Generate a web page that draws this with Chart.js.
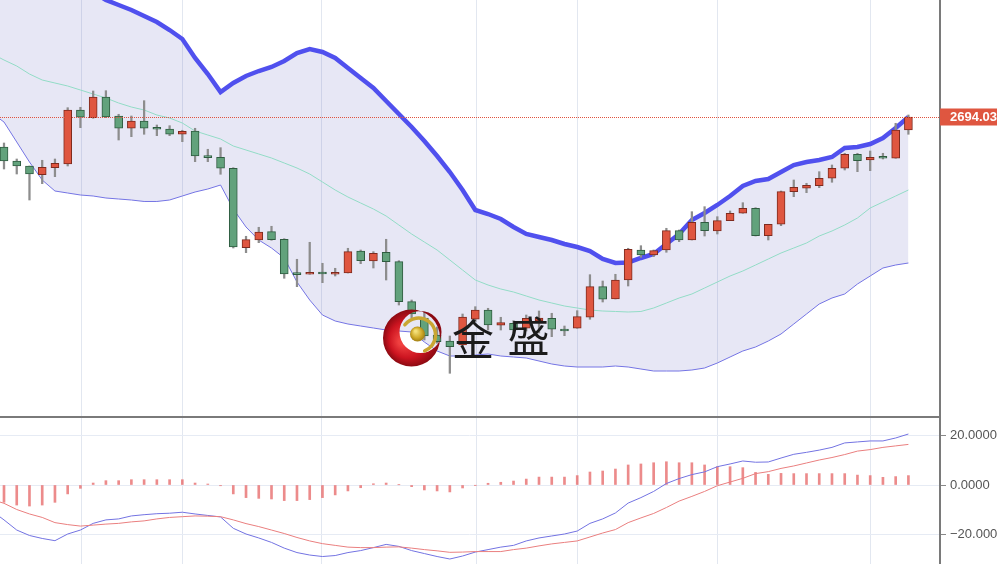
<!DOCTYPE html>
<html><head><meta charset="utf-8">
<script src="https://cdn.jsdelivr.net/npm/chart.js@4.4.1/dist/chart.umd.min.js"></script>
<style>
html,body{margin:0;padding:0;background:#fff;overflow:hidden;}
#wrap{position:relative;width:997px;height:564px;}
#main{position:absolute;left:0;top:0;}
#macd{position:absolute;left:0;top:416px;}
</style></head><body>
<div id="wrap">
<canvas id="main" width="997" height="417"></canvas>
<canvas id="macd" width="997" height="148"></canvas>
</div>
<script>
// ---- candles (price) ----
const candleOpen = [2686.53,2683.03,2681.78,2679.61,2681.36,2682.28,2695.78,2693.86,2699.03,2694.28,
2691.21,2693.03,2691.36,2691.03,2689.71,2690.53,2684.36,2683.96,2681.21,2661.36,
2663.28,2665.36,2663.46,2654.96,2654.71,2655.21,2654.71,2655.03,2660.53,2658.03,
2660.21,2657.86,2647.86,2643.78,2639.53,2638.03,2637.03,2643.46,2645.78,2641.96,
2642.46,2641.21,2643.03,2643.71,2640.96,2641.21,2643.96,2651.61,2648.53,2653.28,
2660.78,2659.53,2660.78,2665.61,2663.28,2667.71,2665.53,2668.11,2669.96,2671.21,
2664.36,2667.21,2675.36,2676.21,2676.86,2678.71,2681.21,2684.71,2683.28,2684.11,
2683.71,2690.78];
const candleHigh = [2687.53,2683.53,2681.78,2683.21,2683.53,2696.36,2696.46,2700.53,2700.61,2694.71,
2694.28,2698.11,2692.03,2691.86,2690.71,2691.21,2685.96,2686.36,2681.36,2664.21,
2666.46,2666.71,2663.61,2658.46,2662.71,2657.46,2656.21,2661.21,2660.78,2660.36,
2663.46,2658.11,2648.28,2645.28,2641.53,2639.28,2644.78,2646.61,2646.21,2643.96,
2643.11,2644.53,2645.53,2644.96,2641.78,2645.61,2654.61,2653.03,2654.71,2661.21,
2661.86,2660.78,2666.21,2665.78,2670.36,2671.61,2669.11,2670.53,2672.61,2671.36,
2667.21,2675.53,2678.28,2677.46,2680.36,2682.03,2684.96,2684.96,2685.53,2684.96,
2692.46,2694.53];
const candleLow = [2681.03,2679.78,2673.28,2677.36,2679.11,2681.78,2691.36,2693.71,2693.86,2688.28,
2689.11,2689.71,2689.36,2689.36,2687.86,2682.86,2682.86,2679.71,2661.28,2660.11,
2662.61,2663.21,2653.71,2651.61,2654.71,2652.61,2654.28,2655.03,2657.36,2656.28,
2653.28,2647.03,2643.78,2638.28,2637.46,2629.96,2636.53,2642.86,2640.78,2640.78,
2640.03,2640.53,2640.03,2639.11,2639.36,2641.21,2643.46,2647.78,2648.53,2651.78,
2658.96,2659.11,2660.21,2662.86,2663.28,2664.28,2664.78,2668.11,2669.96,2664.28,
2663.28,2666.86,2674.11,2675.11,2676.36,2677.71,2680.78,2680.36,2680.61,2683.53,
2683.71,2689.71];
const candleClose = [2683.03,2681.78,2679.78,2681.46,2682.46,2695.78,2693.96,2699.03,2694.03,2691.21,
2693.03,2691.21,2690.96,2689.71,2690.46,2684.28,2683.86,2681.21,2661.53,2663.36,
2665.28,2663.36,2654.78,2654.61,2655.21,2654.78,2655.21,2660.36,2658.11,2659.96,
2657.86,2647.86,2644.78,2639.28,2637.86,2636.61,2644.03,2645.78,2642.03,2642.61,
2640.78,2643.71,2643.78,2640.96,2640.53,2644.11,2651.61,2648.46,2653.28,2660.96,
2659.53,2660.61,2665.61,2663.28,2667.71,2665.61,2668.11,2669.96,2671.21,2664.36,
2667.21,2675.36,2676.46,2676.96,2678.71,2681.21,2684.71,2683.11,2683.96,2683.71,
2690.78,2694.03];

// ---- Bollinger bands ----
const bollUpper = [2725.78,2726.28,2726.78,2728.28,2729.28,2728.28,2727.03,2725.28,2723.28,2722.03,
2720.78,2719.28,2717.78,2715.78,2713.53,2708.78,2704.78,2700.28,2702.53,2704.28,
2705.53,2706.53,2708.03,2710.03,2711.03,2710.28,2708.78,2706.28,2703.78,2701.28,
2698.03,2694.78,2691.53,2688.03,2684.28,2680.28,2675.78,2670.78,2669.78,2668.53,
2666.53,2664.78,2664.03,2663.28,2662.28,2661.53,2660.53,2658.53,2657.53,2657.66,
2658.78,2659.78,2662.28,2664.78,2668.28,2670.03,2672.03,2674.28,2676.78,2678.03,
2678.53,2680.28,2682.03,2682.78,2683.28,2684.03,2686.28,2686.53,2687.28,2688.78,
2691.28,2694.03];
const bollMid = [2708.28,2706.78,2704.78,2703.28,2702.53,2701.78,2700.78,2699.78,2698.78,2697.53,
2696.53,2695.78,2694.53,2693.78,2692.53,2690.53,2689.53,2688.53,2686.78,2685.78,
2684.78,2683.78,2682.53,2681.28,2679.78,2677.78,2675.78,2674.03,2672.53,2671.03,
2669.28,2667.03,2664.78,2662.78,2660.78,2658.28,2655.78,2653.28,2652.03,2651.03,
2650.28,2649.28,2648.28,2647.53,2646.78,2646.28,2645.78,2645.53,2645.41,2645.28,
2645.41,2646.28,2647.53,2648.78,2649.78,2651.28,2652.78,2654.28,2655.53,2657.03,
2658.53,2660.03,2661.28,2662.53,2664.28,2665.53,2667.03,2668.78,2671.28,2672.78,
2674.28,2675.78];
const bollLower = [2692.78,2687.78,2682.78,2678.28,2675.53,2675.03,2674.53,2674.28,2673.78,2673.53,
2673.28,2672.91,2672.91,2673.28,2674.28,2675.28,2676.03,2677.03,2671.03,2666.53,
2663.28,2661.28,2658.78,2652.78,2648.28,2644.53,2643.03,2642.28,2641.78,2641.28,
2640.78,2640.53,2640.28,2637.78,2635.53,2634.28,2634.28,2634.53,2634.78,2634.28,
2634.03,2633.78,2633.03,2632.28,2631.78,2631.53,2631.53,2631.53,2631.78,2631.53,
2631.03,2630.53,2630.53,2630.53,2630.78,2631.28,2632.53,2634.03,2635.53,2636.53,
2638.03,2639.78,2642.28,2644.78,2647.28,2648.78,2649.78,2652.28,2654.28,2656.28,
2657.03,2657.53];

// ---- MACD ----
const macdDif = [-14.1,-18.2,-20.4,-21.6,-22.5,-19.8,-18.2,-15.5,-14.1,-13.7,
-12.5,-12.0,-11.6,-11.4,-11.0,-11.7,-12.3,-12.9,-17.5,-19.8,
-21.4,-23.2,-25.5,-27.3,-28.3,-28.9,-28.5,-27.3,-26.5,-25.3,
-24.0,-24.8,-26.5,-27.7,-28.9,-29.9,-28.7,-27.1,-26.1,-25.1,
-24.4,-22.6,-21.4,-20.6,-19.8,-18.6,-15.5,-13.7,-11.3,-7.3,
-5.1,-2.6,0.6,2.6,4.2,5.3,7.4,8.5,9.7,9.2,
9.3,10.9,12.4,13.2,14.1,15.2,17.0,17.4,17.8,17.8,
19.0,20.6];
const macdDea = [-7.4,-9.9,-11.7,-13.1,-15.2,-16.0,-16.6,-16.2,-15.8,-15.5,
-14.9,-14.5,-13.7,-13.1,-12.8,-12.5,-12.6,-12.8,-14.1,-15.6,
-16.8,-18.2,-19.6,-21.2,-22.6,-23.7,-24.4,-25.1,-25.3,-25.3,
-25.1,-25.0,-25.5,-26.1,-26.6,-27.2,-27.1,-26.9,-26.9,-26.9,
-26.1,-25.5,-24.6,-23.8,-23.2,-22.6,-21.0,-19.4,-18.0,-15.2,
-13.3,-11.5,-9.1,-6.5,-4.6,-2.6,-0.3,1.2,2.7,4.6,
5.4,6.7,7.7,8.9,10.1,11.1,12.3,13.7,14.3,15.2,
15.8,16.4];
const macdHist = [-7.0,-8.1,-8.5,-8.1,-7.0,-3.6,-1.35,0.8,1.75,1.75,
2.15,2.15,2.15,2.15,2.15,0.8,0.4,-0.3,-3.6,-5.1,
-5.4,-5.65,-6.3,-6.3,-5.9,-5.1,-4.0,-2.4,-1.1,0.5,
0.8,0.1,-0.67,-2.0,-2.4,-2.8,-1.2,-0.1,0.7,1.1,
1.6,2.4,3.2,3.2,3.2,3.8,5.25,5.65,6.45,8.1,
8.5,9.0,9.4,9.0,9.0,8.1,7.4,7.4,7.0,5.1,
4.3,4.7,4.6,4.6,4.6,4.6,4.6,4.0,3.8,3.1,
3.4,3.8];

// values of the indicator lines where they meet the left border of the plot
const leftEdge = {upper:2725.5, mid:2708.8, lower:2693.5, dif:-12.9, dea:-6.9};

// ---- ticks ----
const dayBreaks = [6.1, 14.05, 24.95, 37.1, 45.05, 56.05, 68.05];
const macdTicks = [20, 0, -20];
const lastPriceLabel = '2694.03';

// ---- styling ----
const UP_FILL = '#df5640', UP_EDGE = '#7e2a1e';
const DN_FILL = '#62a27c', DN_EDGE = '#2f5c40';
const X_MIN = -0.314, X_MAX = 73.48;
const AXIS_W = 57;

const up = candleOpen.map((o,i)=> candleClose[i] >= o);
const pts = (arr, edge) => [{x:X_MIN, y:edge}].concat(arr.map((v,i)=>({x:i, y:v})));

function xScaleCfg(){
  return {
    type:'linear', min:X_MIN, max:X_MAX, offset:false,
    ticks:{display:false},
    grid:{color:'#e2e7f0', lineWidth:1, drawTicks:false, offset:false},
    border:{display:false},
    afterBuildTicks: s => { s.ticks = dayBreaks.map(v=>({value:v})); },
    afterFit: s => { s.height = 0; s.paddingLeft = 0; s.paddingRight = 0; }
  };
}

const mainPlugin = {
  id:'mainDecor',
  afterDatasetsDraw(chart){
    const ctx = chart.ctx, ca = chart.chartArea, y = chart.scales.y;
    const py = Math.round(y.getPixelForValue(candleClose[candleClose.length-1])) + 0.5;
    ctx.save();
    // price line
    ctx.strokeStyle = '#e0533f'; ctx.lineWidth = 1; ctx.setLineDash([1,1]);
    ctx.beginPath(); ctx.moveTo(ca.left, py); ctx.lineTo(ca.right, py); ctx.stroke();
    ctx.setLineDash([]);
    // watermark logo
    const cx = 411.5, cy = 338, R = 28.5;
    const g = ctx.createRadialGradient(cx-10, cy+4, 3, cx, cy, R);
    g.addColorStop(0, '#f04040'); g.addColorStop(0.6, '#cc1420'); g.addColorStop(1, '#8c0a12');
    ctx.beginPath();
    ctx.arc(cx, cy, R, 0, Math.PI*2);
    ctx.moveTo(cx+9+21, cy-6);
    ctx.arc(cx+9, cy-6, 21, 0, Math.PI*2);
    ctx.fillStyle = g; ctx.fill('evenodd');
    // gold swoosh
    ctx.strokeStyle = '#c9a632'; ctx.lineWidth = 3.5; ctx.lineCap = 'round';
    ctx.beginPath(); ctx.arc(cx+7, cy-3, 17, -2.5, 1.2); ctx.stroke();
    // gold ball
    const gb = ctx.createRadialGradient(cx+4, cy-7, 1, cx+6, cy-4, 8);
    gb.addColorStop(0, '#f4e07a'); gb.addColorStop(0.6, '#cfa928'); gb.addColorStop(1, '#9c7a12');
    ctx.fillStyle = gb; ctx.beginPath(); ctx.arc(cx+6, cy-4, 7.5, 0, Math.PI*2); ctx.fill();
    // text
    ctx.fillStyle = '#1b1b1b';
    ctx.font = '42px "Noto Sans CJK SC", "Noto Sans CJK JP", sans-serif';
    ctx.textAlign = 'center'; ctx.textBaseline = 'middle';
    ctx.fillText('金', 473, 339);
    ctx.fillText('盛', 528.5, 336);
    ctx.restore();
  },
  afterDraw(chart){
    const ctx = chart.ctx, ca = chart.chartArea, y = chart.scales.y;
    const py = Math.round(y.getPixelForValue(candleClose[candleClose.length-1]));
    ctx.save();
    ctx.fillStyle = '#df5640';
    ctx.fillRect(ca.right, py-8.5, chart.width - ca.right, 17);
    ctx.fillStyle = '#ffffff';
    ctx.font = 'bold 13px "Liberation Sans", Arial, sans-serif';
    ctx.textAlign = 'left'; ctx.textBaseline = 'middle';
    ctx.fillText(lastPriceLabel, ca.right + 10, py + 0.5);
    ctx.restore();
  }
};

new Chart(document.getElementById('main'), {
  type:'bar',
  data:{
    datasets:[
      { type:'bar', data: candleOpen.map((o,i)=>({x:i, y:[o, candleClose[i]]})),
        backgroundColor: up.map(u=>u?UP_FILL:DN_FILL),
        borderColor: up.map(u=>u?UP_EDGE:DN_EDGE),
        borderWidth:1, borderSkipped:false, barThickness:8, grouped:false, minBarLength:2, order:0 },
      { type:'bar', data: candleLow.map((l,i)=>({x:i, y:[l, candleHigh[i]]})),
        backgroundColor:'#8d8d8d', borderWidth:0, barThickness:1.6, grouped:false, order:1 },
      { type:'line', data: pts(bollUpper, leftEdge.upper), borderColor:'#5050ee', borderWidth:4.5,
        pointRadius:0, tension:0, fill:{target:4}, backgroundColor:'rgba(92,92,190,0.15)', order:5 },
      { type:'line', data: pts(bollMid, leftEdge.mid), borderColor:'#92dcc6', borderWidth:1,
        pointRadius:0, tension:0, fill:false, order:3 },
      { type:'line', data: pts(bollLower, leftEdge.lower), borderColor:'#7474e4', borderWidth:1,
        pointRadius:0, tension:0, fill:false, order:4 }
    ]
  },
  options:{
    responsive:false, animation:false, events:[],
    layout:{padding:0},
    plugins:{legend:{display:false}, tooltip:{enabled:false}},
    scales:{
      x: xScaleCfg(),
      y: { type:'linear', position:'right', min:2619.03, max:2723.28,
        ticks:{display:false}, grid:{display:false, drawTicks:false},
        border:{display:true, color:'#7a7a7a', width:2},
        afterFit: s => { s.width = AXIS_W; s.paddingTop = 0; s.paddingBottom = 0; } }
    }
  },
  plugins:[mainPlugin]
});

const macdPlugin = {
  id:'macdDecor',
  afterDraw(chart){
    const ctx = chart.ctx, ca = chart.chartArea;
    ctx.save();
    ctx.fillStyle = '#7a7a7a';
    ctx.fillRect(0, 0, ca.right, 2);
    ctx.restore();
  }
};

new Chart(document.getElementById('macd'), {
  type:'bar',
  data:{
    datasets:[
      { type:'bar', data: macdHist.map((v,i)=>({x:i, y:v})), backgroundColor:'rgba(230,100,100,0.75)',
        borderWidth:0, barThickness:2, order:2 },
      { type:'line', data: pts(macdDif, leftEdge.dif), borderColor:'#7373e2', borderWidth:1,
        pointRadius:0, tension:0, fill:false, order:1 },
      { type:'line', data: pts(macdDea, leftEdge.dea), borderColor:'#ea7f7f', borderWidth:1,
        pointRadius:0, tension:0, fill:false, order:0 }
    ]
  },
  options:{
    responsive:false, animation:false, events:[],
    layout:{padding:0},
    plugins:{legend:{display:false}, tooltip:{enabled:false}},
    scales:{
      x: xScaleCfg(),
      y: { type:'linear', position:'right', min:-31.92, max:27.88,
        afterBuildTicks: s => { s.ticks = macdTicks.map(v=>({value:v})); },
        ticks:{ color:'#555', padding:4, font:{size:13, family:'"Liberation Sans", Arial, sans-serif'},
          callback: v => (v<0?'\u2212':'') + Math.abs(v).toFixed(4) },
        grid:{color:'#e6ebf4', lineWidth:1, drawTicks:true, tickLength:6, tickColor:'#888'},
        border:{display:true, color:'#7a7a7a', width:2},
        afterFit: s => { s.width = AXIS_W; s.paddingTop = 0; s.paddingBottom = 0; } }
    }
  },
  plugins:[macdPlugin]
});
</script>
</body></html>
